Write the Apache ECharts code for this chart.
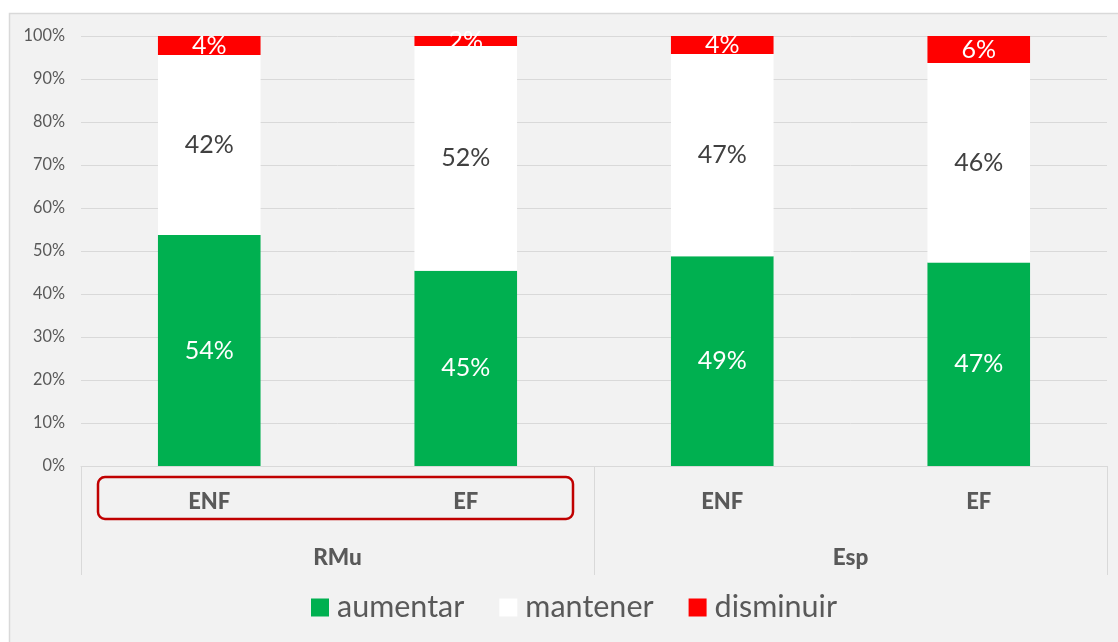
<!DOCTYPE html>
<html><head><meta charset="utf-8">
<script src="https://cdn.jsdelivr.net/npm/echarts@6/dist/echarts.min.js"></script>
<style>html,body{margin:0;padding:0;background:#fff}#c{width:1118px;height:642px}</style>
</head><body><div id="c"></div>
<script>
const categories = ['ENF', 'EF', 'ENF', 'EF'];
const groups = ['RMu', 'Esp'];
const aumentar = [53.7, 45.4, 48.8, 47.3];
const mantener = [41.9, 52.3, 47.0, 46.4];
const disminuir = [4.4, 2.3, 4.2, 6.3];
const yTicks = [0, 10, 20, 30, 40, 50, 60, 70, 80, 90, 100];

const FONT = 'Lato, "Open Sans", sans-serif';
const chart = echarts.init(document.getElementById('c'));
function lab(color) {
  return {show: true, position: 'inside', color: color, fontSize: 25, fontFamily: FONT,
    formatter: p => Math.round(p.value) + '%'};
}
chart.setOption({
  backgroundColor: '#ffffff',
  animation: false,
  graphic: [
    {type: 'rect', z: -10, shape: {x: 9.5, y: 13.5, width: 1120, height: 640},
     style: {fill: '#f2f2f2', stroke: '#d9d9d9', lineWidth: 1.5}},
    {type: 'rect', z: 10, shape: {x: 98, y: 477, width: 475, height: 42, r: 7},
     style: {fill: 'none', stroke: '#c00000', lineWidth: 2.5}}
  ],
  grid: {left: 81, right: 11, top: 36, bottom: 176, containLabel: false},
  legend: {
    bottom: 14, left: 306, itemWidth: 18, itemHeight: 18, itemGap: 35, icon: 'rect',
    textStyle: {fontSize: 30.5, color: '#595959', fontFamily: FONT, padding: [0, 0, 0, 3]},
    data: ['aumentar', 'mantener', 'disminuir']
  },
  xAxis: [
    {type: 'category', data: categories, position: 'bottom',
     axisLine: {show: true, lineStyle: {color: '#d9d9d9', width: 1}},
     axisTick: {show: false},
     axisLabel: {margin: 25, fontSize: 22, fontWeight: 900, color: '#595959', fontFamily: FONT}},
    {type: 'category', data: groups, position: 'bottom', offset: 0,
     axisLine: {show: false},
     axisTick: {show: true, length: 109, interval: 0, alignWithLabel: false, lineStyle: {color: '#d9d9d9', width: 1}},
     axisLabel: {margin: 80, fontSize: 22.5, fontWeight: 900, color: '#595959', fontFamily: FONT}}
  ],
  yAxis: {
    type: 'value', min: 0, max: 100, interval: 10,
    axisLine: {show: false}, axisTick: {show: false},
    splitLine: {lineStyle: {color: '#d9d9d9', width: 1}},
    axisLabel: {formatter: v => yTicks.includes(v) ? v + '%' : '', fontSize: 16.3, color: '#595959', margin: 16, fontFamily: FONT}
  },
  series: [
    {name: 'aumentar', type: 'bar', stack: 's', data: aumentar, barWidth: '40%',
     itemStyle: {color: '#00b050'}, label: lab('#ffffff')},
    {name: 'mantener', type: 'bar', stack: 's', data: mantener, barWidth: '40%',
     itemStyle: {color: '#ffffff'}, label: lab('#404040')},
    {name: 'disminuir', type: 'bar', stack: 's', data: disminuir, barWidth: '40%',
     itemStyle: {color: '#ff0000'}, label: lab('#ffffff')}
  ]
});
</script></body></html>
